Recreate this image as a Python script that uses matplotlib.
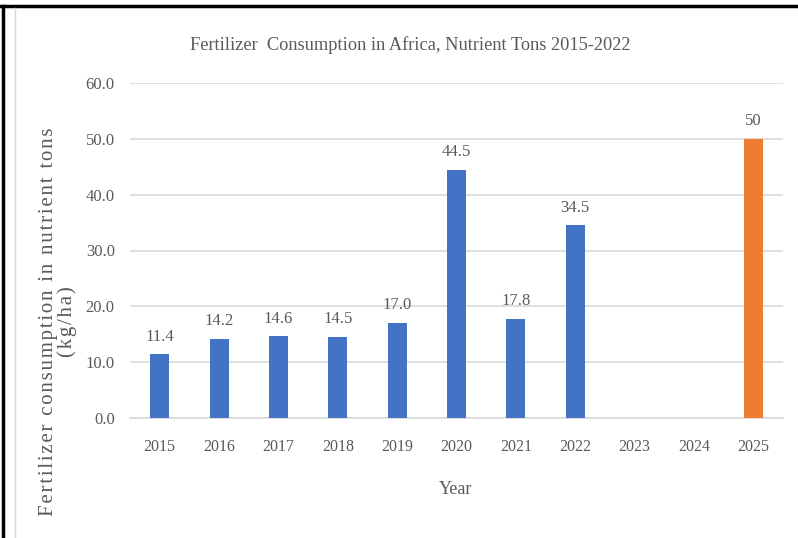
import matplotlib.pyplot as plt
import numpy as np

years = ["2015", "2016", "2017", "2018", "2019", "2020", "2021", "2022", "2023", "2024", "2025"]
values = [11.4, 14.2, 14.6, 14.5, 17.0, 44.5, 17.8, 34.5, np.nan, np.nan, 50]
labels = ["11.4", "14.2", "14.6", "14.5", "17.0", "44.5", "17.8", "34.5", "", "", "50"]
colors = ["#4472C4"] * 10 + ["#ED7D31"]

plt.rcParams["font.family"] = ["Liberation Serif", "DejaVu Serif"]
txt = "#595959"

fig = plt.figure(figsize=(7.98, 5.38), dpi=100)
ax = fig.add_axes([130 / 798, 1 - 418 / 538, 653 / 798, 335 / 538])

x = np.arange(len(years))
bars = ax.bar(x, values, width=0.32, color=colors, zorder=3)
for i, (v, lab) in enumerate(zip(values, labels)):
    if lab:
        ax.annotate(lab, (x[i], v), xytext=(0, 7), textcoords="offset points",
                    ha="center", va="bottom", fontsize=12, color=txt)

ax.set_xlim(-0.5, len(years) - 0.5)
ax.set_ylim(0, 60)
ax.set_yticks(np.arange(0, 61, 10))
ax.set_yticklabels([f"{t:.1f}" for t in np.arange(0, 61, 10)])
ax.set_xticks(x)
ax.set_xticklabels(years)
ax.tick_params(axis="both", length=0, labelsize=12, colors=txt)
ax.tick_params(axis="x", labelsize=11.5, pad=15)
ax.tick_params(axis="y", pad=11)
ax.grid(axis="y", color="#D9D9D9", linewidth=1.2, zorder=0)
for s in ["top", "right", "left"]:
    ax.spines[s].set_visible(False)
ax.spines["bottom"].set_color("#D9D9D9")
ax.spines["bottom"].set_linewidth(1.2)

fig.text(410 / 798, 1 - 45 / 538, "Fertilizer  Consumption in Africa, Nutrient Tons 2015-2022",
         ha="center", va="center", fontsize=13.2, color=txt)
fig.text(456 / 798, 1 - 490 / 538, "Year", ha="center", va="center", fontsize=13, color=txt)

# the y title is letter-spaced in the original
line1 = "\u200a".join("Fertilizer consumption in nutrient tons")
line2 = "\u200a".join("(kg/ha)")
fig.text(58 / 798, 1 - 322 / 538, line1 + "\n" + line2,
         ha="center", va="center", rotation=90, fontsize=15, color=txt, linespacing=1.0)

# page border lines from the screenshot
fig.add_artist(plt.Line2D([0, 1], [1 - 6 / 538, 1 - 6 / 538], color="black", lw=2.5))
fig.add_artist(plt.Line2D([3 / 798, 3 / 798], [0, 1 - 6 / 538], color="black", lw=2.5))
fig.add_artist(plt.Line2D([15 / 798, 15 / 798], [0, 1 - 8 / 538], color="#D9D9D9", lw=1))

fig.savefig("out.png", dpi=100)
